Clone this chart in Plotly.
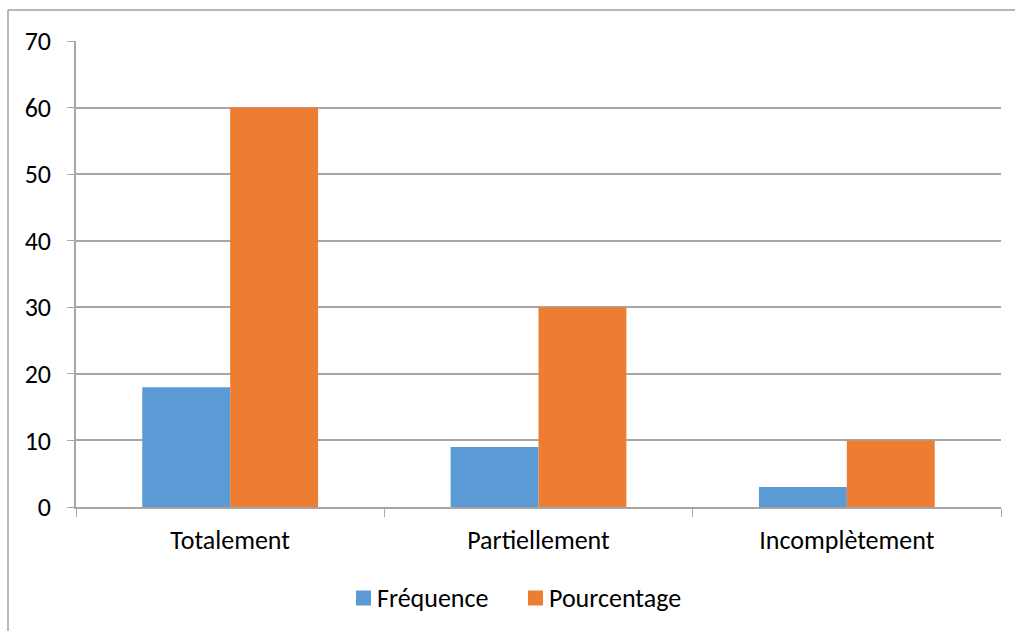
import plotly.graph_objects as go

categories = ["Totalement", "Partiellement", "Incomplètement"]
frequence = [18, 9, 3]
pourcentage = [60, 30, 10]
series_names = ["Fréquence", "Pourcentage"]

blue = "#5B9BD5"
orange = "#ED7D31"
grid = "#A6A6A6"
font_family = "Carlito, Lato, 'Liberation Sans', sans-serif"
font_size = 26

fig = go.Figure()
fig.add_trace(go.Bar(name=series_names[0], x=categories, y=frequence,
                     marker=dict(color=blue, line=dict(width=0))))
fig.add_trace(go.Bar(name=series_names[1], x=categories, y=pourcentage,
                     marker=dict(color=orange, line=dict(width=0))))

# plot area spans x 76..1001, y 41..507 in a 1015x631 page
L, R, T, B = 76, 14, 41, 124
pw, ph = 1015 - L - R, 631 - T - B

def px_x(x):
    return (x - L) / pw

def px_y(y):
    return (631 - B - y) / ph

# legend drawn as swatch + label pairs below the plot
legend_items = [(series_names[0], blue, 356), (series_names[1], orange, 528)]
legend_y = 598
shapes = [
    dict(type="line", xref="paper", yref="paper",
         x0=px_x(8), x1=px_x(1020), y0=px_y(10), y1=px_y(10),
         line=dict(color="#A0A0A0", width=1.5)),
    dict(type="line", xref="paper", yref="paper",
         x0=px_x(8), x1=px_x(8), y0=px_y(10), y1=px_y(640),
         line=dict(color="#A0A0A0", width=1.5)),
]
annotations = []
for name, color, x0 in legend_items:
    shapes.append(dict(type="rect", xref="paper", yref="paper",
                       x0=px_x(x0), x1=px_x(x0 + 15),
                       y0=px_y(legend_y + 7.5), y1=px_y(legend_y - 7.5),
                       fillcolor=color, line=dict(width=0)))
    annotations.append(dict(text=name, xref="paper", yref="paper",
                            x=px_x(x0 + 19), y=px_y(legend_y),
                            xanchor="left", yanchor="middle", showarrow=False,
                            font=dict(size=font_size, family=font_family, color="#000000")))

fig.update_layout(
    width=1015, height=631,
    margin=dict(l=L, r=R, t=T, b=B),
    paper_bgcolor="white", plot_bgcolor="white",
    barmode="group", bargap=0.43, bargroupgap=0,
    font=dict(family=font_family, size=font_size, color="#000000"),
    showlegend=False,
    xaxis=dict(
        type="category", tickson="boundaries", ticks="outside", ticklen=8,
        tickcolor=grid, showline=True, linecolor=grid, linewidth=1.5,
        showgrid=False, ticklabelstandoff=9, fixedrange=True,
        tickfont=dict(size=font_size),
    ),
    yaxis=dict(
        range=[0, 70], dtick=10, ticks="outside", ticklen=7, tickcolor=grid,
        showline=True, linecolor=grid, linewidth=1.5,
        showgrid=True, gridcolor=grid, gridwidth=1.5,
        zeroline=False, ticklabelstandoff=11, fixedrange=True,
        tickfont=dict(size=font_size),
    ),
    shapes=shapes,
    annotations=annotations,
)

fig.write_html("out.html")
